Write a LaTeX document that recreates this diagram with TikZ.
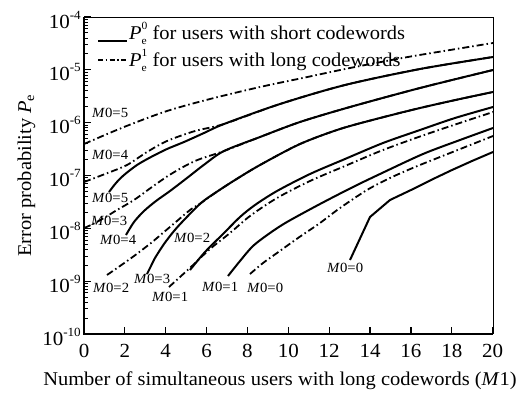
\documentclass[tikz,border=0pt]{standalone}
\usepackage{fontspec}
\setmainfont[FakeStretch=1.05]{Liberation Serif}
\newcommand{\tenexp}[1]{10\raisebox{0.45em}{\fontsize{12.5}{12.5}\selectfont -#1}}
\newcommand{\mlab}[1]{\textit{M}0=#1}
\begin{document}
\begin{tikzpicture}[x=1pt,y=-1pt,
  solidc/.style={line width=2pt,line join=round},
  dashc/.style={line width=1.8pt,dash pattern=on 7pt off 3pt on 1.5pt off 3pt},
  curvelab/.style={font=\fontsize{14}{14}\selectfont,inner sep=0pt},
  ticklab/.style={font=\fontsize{20}{20}\selectfont,inner sep=0pt},
  axlab/.style={font=\fontsize{19.5}{19.5}\selectfont,inner sep=0pt}]
\useasboundingbox (0,0) rectangle (523,392);
% frame
\draw[line width=1pt] (84,17) -- (493,17) -- (493,334);
\draw[line width=1.6pt] (84,17) -- (84,334) -- (493,334);
% y ticks
\foreach \d/\e in {0/10,1/9,2/8,3/7,4/6,5/5,6/4}{
  \draw[line width=1.2pt] (84,{334-52.833*\d}) -- ++(7,0);
  \node[ticklab,anchor=base east] (ytl\d) at (81,{334-52.833*\d+11}) {\tenexp{\e}};
}
\foreach \d in {0,...,5}{
  \foreach \m in {2,...,9}{
    \draw[line width=0.9pt] (84,{334-52.833*(\d+log10(\m))}) -- ++(4,0);
  }
}
% x ticks
\foreach \i in {0,2,...,20}{
  \draw[line width=1.2pt] ({84+20.435*\i},334) -- ++(0,-7);
  \node[ticklab,anchor=base] (xtl\i) at ({84+20.435*\i},357) {\i};
}
% axis labels
\node[axlab,anchor=base] (xlabel) at (280,385) {Number of simultaneous users with long codewords (\textit{M}1)};
\node[axlab,anchor=base west,rotate=90] (ylabel) at (31,257) {Error probability \textit{P}\textsubscript{e}};
% curves: dash-dot (P_e^1)
\draw[dashc] plot[smooth,tension=0.5] coordinates {(84,144) (124,127) (167,111) (210,99) (260,87) (305,77.5) (350,68) (405,57.5) (450,50) (493,43)};
\draw[dashc] plot[smooth,tension=0.5] coordinates {(84,182) (105,174) (127,165) (147,152) (167,141) (195,131) (224,124) (280,104) (345,85) (420,69) (493,57)};
\draw[dashc] plot[smooth,tension=0.5] coordinates {(84,228) (91,225) (104,218) (117,210) (134,200) (152,187) (171,174) (195,161) (224,151) (260,137) (300,122) (350,107) (420,88) (493,70)};
\draw[dashc] plot[smooth,tension=0.5] coordinates {(107,275) (120,266) (134,256) (151,243) (164,232) (177,221) (190,210) (201,203) (215,193) (235,180) (260,165) (300,144) (340,129) (380,118) (420,108) (460,99) (493,92)};
\draw[dashc] plot[smooth,tension=0.5] coordinates {(169,287) (180,277) (192,266) (210,249) (230,233) (250,216) (277,198) (310,181) (345,166) (383,150) (430,133) (493,112)};
\draw[dashc] plot[smooth,tension=0.5] coordinates {(250,274) (263,263) (277,253) (298,238) (320,223) (340,208) (367,190) (390,178) (415,167) (440,157) (493,136)};
% curves: solid (P_e^0)
\draw[solidc] plot[smooth,tension=0.5] coordinates {(109,192) (116,183) (124,175) (137,165) (151,157) (167,149) (184,142) (204,133) (224,124) (280,104) (345,85) (420,69) (493,57)};
\draw[solidc] plot[smooth,tension=0.5] coordinates {(126,235) (134,222) (144,211) (156,201) (170,191) (187,178) (205,164) (224,151) (260,137) (300,122) (350,107) (420,88) (493,70)};
\draw[solidc] plot[smooth,tension=0.5] coordinates {(147,274) (151,266) (155,258) (164,244) (174,231) (184,220) (201,203) (215,193) (235,180) (260,165) (300,144) (340,129) (380,118) (420,108) (460,99) (493,92)};
\draw[solidc] plot[smooth,tension=0.5] coordinates {(190,270) (205,252) (224,233) (240,217) (255,205) (277,191) (310,174) (345,159) (383,143) (420,130) (455,118) (493,107)};
\draw[solidc] plot[smooth,tension=0.5] coordinates {(228,276) (240,261) (253,246) (270,233) (287,222) (320,204) (353,187) (380,174) (423,154) (460,140) (493,128)};
\draw[solidc] (350,260) -- (370,217) -- (390,200) -- (411,190) -- (431,180) -- (452,170) -- (472,161) -- (493,152);
% curve labels
\node[curvelab,anchor=west] (l5d) at (92,113) {\mlab{5}};
\node[curvelab,anchor=west] (l4d) at (92,155) {\mlab{4}};
\node[curvelab,anchor=west] (l5s) at (92,198) {\mlab{5}};
\node[curvelab,anchor=west] (l3d) at (91,221) {\mlab{3}};
\node[curvelab,anchor=west] (l4s) at (100,240) {\mlab{4}};
\node[curvelab,anchor=west] (l2d) at (93,288) {\mlab{2}};
\node[curvelab,anchor=west] (l3s) at (134,279) {\mlab{3}};
\node[curvelab,anchor=west] (l1d) at (152,297) {\mlab{1}};
\node[curvelab,anchor=west] (l2s) at (174,238) {\mlab{2}};
\node[curvelab,anchor=west] (l1s) at (202,287) {\mlab{1}};
\node[curvelab,anchor=west] (l0d) at (247,288) {\mlab{0}};
\node[curvelab,anchor=west] (l0s) at (327,268) {\mlab{0}};
% legend
\coordinate (lg1a) at (98,41); \coordinate (lg1b) at (127,41);
\coordinate (lg2a) at (98,60); \coordinate (lg2b) at (127,60);
\draw[solidc,line width=2.4pt] (lg1a) -- (lg1b);
\draw[dashc,dash pattern=on 5pt off 2.5pt on 1.5pt off 2.5pt] (lg2a) -- (lg2b);
\node[axlab,anchor=base west] (lgt1) at (129,39) {\textit{P}\rlap{\raisebox{-0.3em}{\fontsize{11}{11}\selectfont e}}\raisebox{0.5em}{\fontsize{11}{11}\selectfont 0} for users with short codewords};
\node[axlab,anchor=base west] (lgt2) at (129,66) {\textit{P}\rlap{\raisebox{-0.3em}{\fontsize{11}{11}\selectfont e}}\raisebox{0.5em}{\fontsize{11}{11}\selectfont 1} for users with long codewords};
\end{tikzpicture}
\end{document}
